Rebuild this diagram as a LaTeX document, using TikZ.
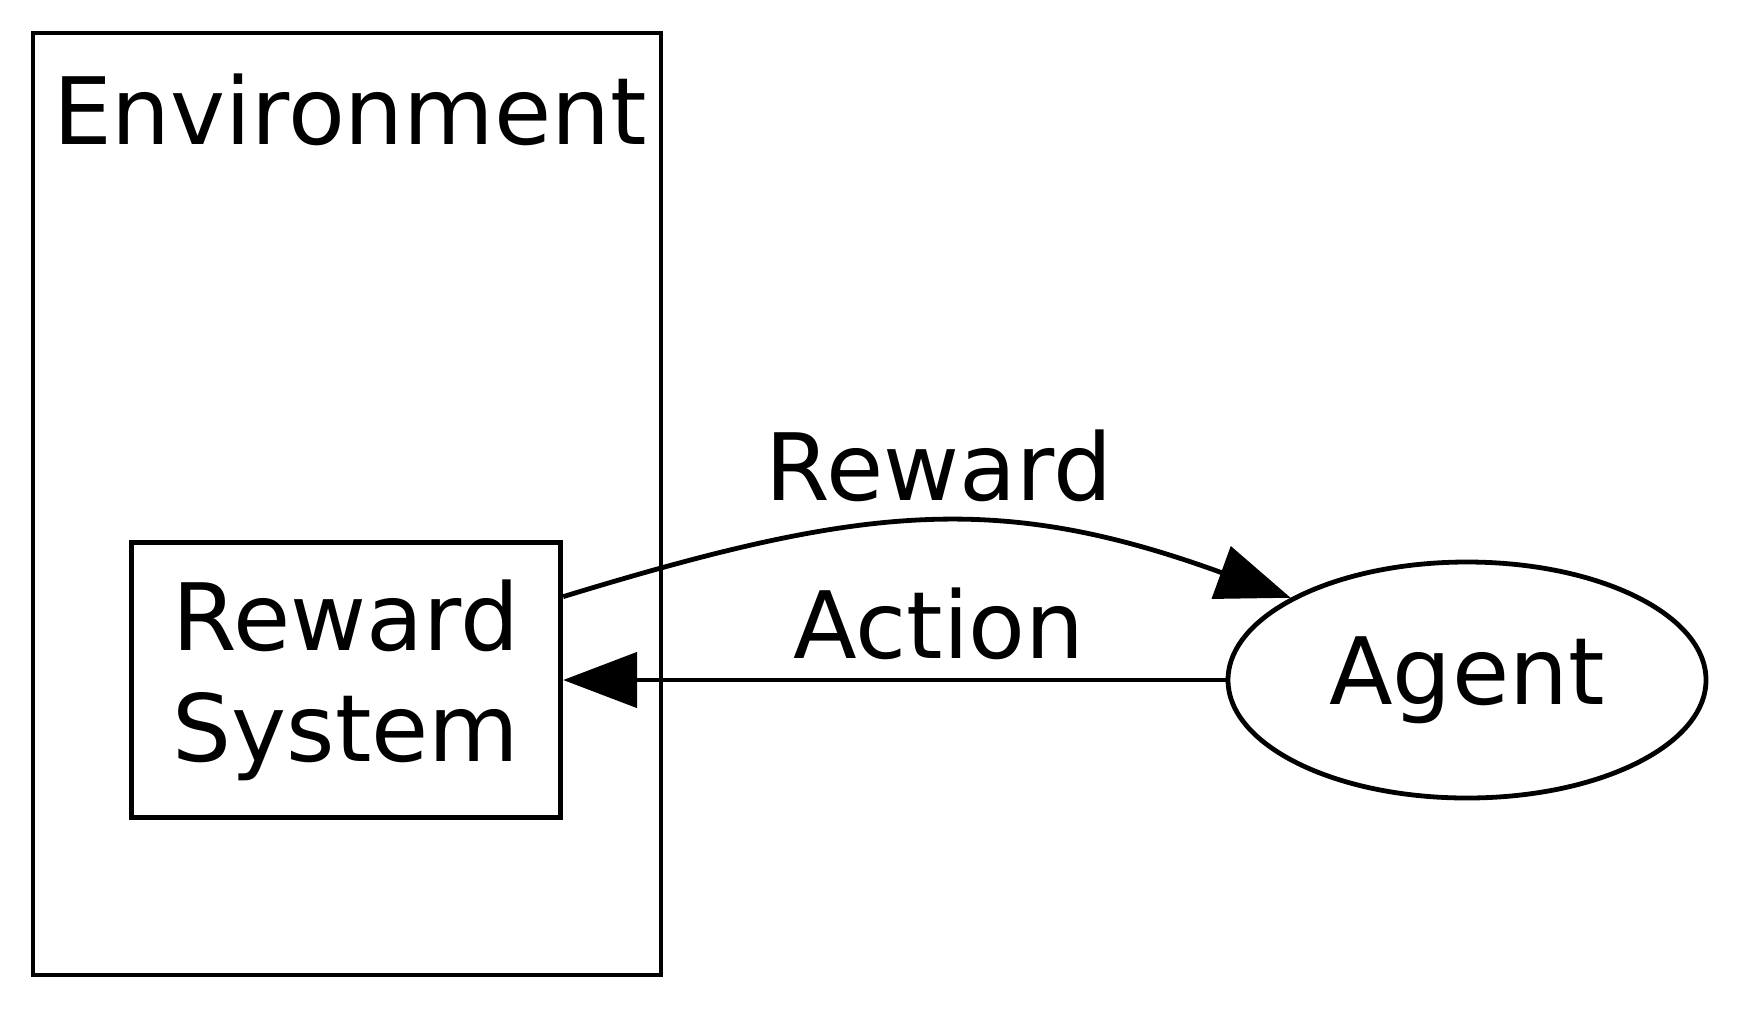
\documentclass[tikz,border=0pt]{standalone}
\usepackage{fontspec}
\setmainfont{DejaVu Sans}
\usetikzlibrary{arrows.meta,shapes.geometric}

\tikzset{
    sysbox/.style={draw, rectangle, inner sep=0pt, align=center, minimum width=214.75pt, minimum height=137.25pt},
    agentbox/.style={draw, ellipse, inner sep=0pt, minimum width=239pt, minimum height=118pt},
    flow/.style={-{Triangle[length=37pt,width=27.5pt]}},
}

\begin{document}
\begin{tikzpicture}[x=0.5pt, y=-0.5pt, line width=2.4pt, font=\fontsize{46.5pt}{55.5pt}\selectfont]
    \def\envwidth{628}
    \def\envheight{942}

    \useasboundingbox (0,0) rectangle (1738,1008);

    % Draw the environment cluster
    \draw (33,33) rectangle ++(\envwidth,\envheight);

    \node[anchor=base] (envlabel) at (350,144) {Environment};

    \node[sysbox] (rewsys) at (346,680) {Reward\\System};

    \node[agentbox] (agent) at (1467,680) {Agent};

    % Edges
    \draw[flow] (rewsys.21) to[out=17, in=160, looseness=1.1] (agent.155);
    \node[anchor=base] (rewardlbl) at (939,500) {Reward};

    \draw[flow] (agent.west) -- (rewsys.east);
    \node[anchor=base] (actionlbl) at (939,658) {Action};
\end{tikzpicture}
\end{document}
